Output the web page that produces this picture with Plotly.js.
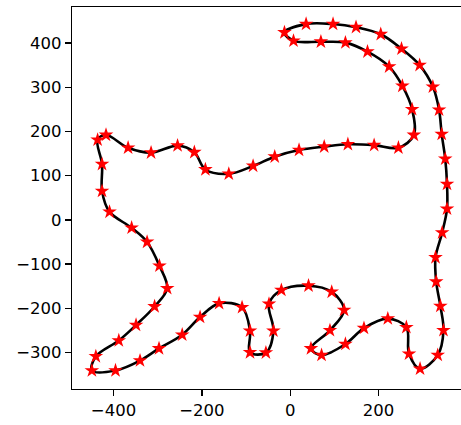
<!DOCTYPE html>
<html>
<head>
<meta charset="utf-8">
<script src="https://cdn.plot.ly/plotly-3.0.1.min.js"></script>
<style>
html, body { margin: 0; padding: 0; overflow: hidden; background: #fff; }
#chart { width: 476px; height: 425px; }
</style>
</head>
<body>
<div id="chart"></div>
<script>
// Points of the closed curve (cat outline), starting at the tail tip
const catX = [-13, 7.5, 69.5, 125, 175, 224, 254, 276, 280, 245, 190, 130.6, 77, 20, -35,
  -84, -139, -192, -217, -255, -315, -367, -417, -436, -426, -426, -409, -359, -324, -296,
  -278.5, -307, -349, -388, -440, -449, -395.5, -340, -297, -244.5, -204, -161, -109, -91, -91,
  -55, -38, -48, -20, 41.5, 94, 122, 90, 47, 71, 125, 167, 221, 263, 269,
  294, 334, 347, 340, 330.5, 329, 344, 355, 355, 351, 343, 337, 323, 293, 252,
  205, 149, 97, 36];
const catY = [424, 405, 403, 401, 380.5, 346.6, 303, 250, 192, 163, 169, 171, 165.6, 158, 143,
  122, 104, 114, 153, 168, 152, 163, 192, 181, 126, 65, 18, -18, -50, -104,
  -155, -196, -238, -273, -309, -341, -341, -318.5, -291, -260, -220, -189, -198, -251, -300,
  -300.5, -251, -190, -159, -149, -163, -204, -250, -291, -306, -281, -245, -223.5, -243, -303,
  -337, -306, -250, -195, -140, -85, -29, 25, 81, 138, 194, 249, 301, 350, 387,
  420, 436, 443, 443];

const xTicks = [-400, -200, 0, 200];
const yTicks = [-300, -200, -100, 0, 100, 200, 300, 400];

// closed curve: wrap around so the spline is smooth at the join
const n = catX.length;
const lineX = [catX[n - 1]].concat(catX, [catX[0], catX[1]]);
const lineY = [catY[n - 1]].concat(catY, [catY[0], catY[1]]);

const traces = [
  {
    x: lineX, y: lineY, type: 'scatter', mode: 'lines',
    line: { color: '#000000', width: 2.6, shape: 'spline', smoothing: 1 },
    hoverinfo: 'skip', showlegend: false
  },
  {
    x: catX, y: catY, type: 'scatter', mode: 'markers',
    marker: { symbol: 'star', size: 11, color: '#ff0000', line: { width: 0 } },
    showlegend: false
  }
];

const axisCommon = {
  showgrid: false, zeroline: false, showline: true, mirror: true,
  linecolor: '#000000', linewidth: 1.3,
  ticks: 'outside', ticklen: 5.8, tickwidth: 1.3, tickcolor: '#000000',
  tickfont: { family: 'DejaVu Sans', size: 16.5, color: '#000000' },
  tickmode: 'array'
};

const layout = {
  width: 476, height: 425,
  margin: { l: 72, r: 10, t: 6.5, b: 35.7, pad: 0 },
  paper_bgcolor: '#ffffff', plot_bgcolor: '#ffffff',
  xaxis: Object.assign({}, axisCommon, {
    range: [-494, 398], tickvals: xTicks, ticktext: xTicks.map(v => v < 0 ? '\u2212' + Math.abs(v) : String(v))
  }),
  yaxis: Object.assign({}, axisCommon, {
    range: [-382.7, 481.6], tickvals: yTicks, ticktext: yTicks.map(v => v < 0 ? '\u2212' + Math.abs(v) : String(v))
  }),
  showlegend: false
};

Plotly.newPlot('chart', traces, layout, { staticPlot: true, displayModeBar: false });
</script>
</body>
</html>
